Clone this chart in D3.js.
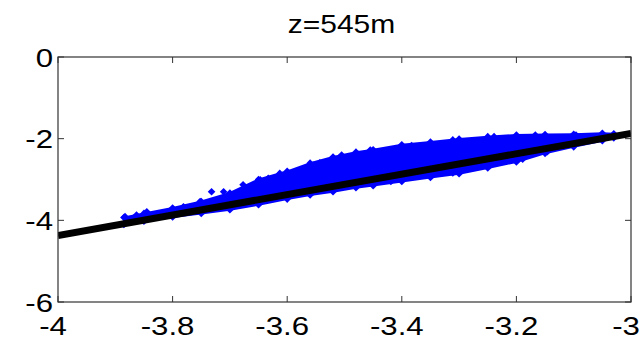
<!DOCTYPE html>
<html>
<head>
<meta charset="utf-8">
<script src="https://cdn.jsdelivr.net/npm/d3@7"></script>
<style>
  body { margin: 0; background: #fff; }
  svg { display: block; }
  text { font-family: "Liberation Sans", Arial, sans-serif; fill: #000; }
</style>
</head>
<body>
<div id="chart"></div>
<script>
// title and axis ticks
const title = "z=545m";
const xTicks = [-4, -3.8, -3.6, -3.4, -3.2, -3];
const yTicks = [0, -2, -4, -6];

// dense blue band: upper and lower edge
const bandX     = [-3.885, -3.85, -3.80, -3.75, -3.70, -3.65, -3.60, -3.56, -3.52, -3.48, -3.45, -3.40, -3.35, -3.30, -3.25, -3.20, -3.15, -3.10, -3.05, -3.03];
const bandUpper = [-3.93, -3.83, -3.70, -3.54, -3.33, -3.00, -2.80, -2.60, -2.45, -2.33, -2.27, -2.15, -2.08, -2.01, -1.95, -1.91, -1.90, -1.89, -1.87, -1.88];
const bandLower = [-4.10, -4.02, -3.92, -3.83, -3.74, -3.62, -3.48, -3.38, -3.30, -3.20, -3.15, -3.05, -2.95, -2.86, -2.72, -2.57, -2.36, -2.20, -2.05, -1.98];

// loose blue points around the band
const outX = [-3.883, -3.863, -3.845, -3.781, -3.752, -3.732, -3.711, -3.697, -3.677, -3.647, -3.633, -3.613, -3.589, -3.554, -3.543, -3.520, -3.505, -3.476, -3.455, -3.383, -3.311, -3.239, -3.167, -3.096, -3.189, -3.146, -3.311, -3.419];
const outY = [-3.91, -3.87, -3.79, -3.67, -3.54, -3.30, -3.30, -3.38, -3.13, -3.01, -2.97, -2.85, -2.85, -2.65, -2.59, -2.48, -2.40, -2.38, -2.28, -2.17, -2.03, -1.95, -1.91, -1.91, -2.50, -2.32, -2.84, -3.05];

// black fitted line
const lineX = [-4, -3];
const lineY = [-4.37, -1.87];

const width = 644, height = 340;
const margin = {top: 57, right: 13, bottom: 38, left: 58};
const sx = 1.2; // glyphs in the picture are stretched sideways

const svg = d3.select("#chart").append("svg")
  .attr("width", width)
  .attr("height", height);

const x = d3.scaleLinear().domain([-4, -3]).range([margin.left, width - margin.right]);
const y = d3.scaleLinear().domain([-6, 0]).range([height - margin.bottom, margin.top]);

svg.append("clipPath").attr("id", "clip")
  .append("rect")
  .attr("x", x(-4)).attr("y", y(0))
  .attr("width", x(-3) - x(-4)).attr("height", y(-6) - y(0));

const plot = svg.append("g").attr("clip-path", "url(#clip)");

// band
const band = bandX.map((v, i) => ({x: v, hi: bandUpper[i], lo: bandLower[i]}));
const area = d3.area()
  .x(d => x(d.x))
  .y0(d => y(d.lo))
  .y1(d => y(d.hi));
plot.append("path")
  .datum(band)
  .attr("d", area)
  .attr("fill", "#0000ff")
  .attr("stroke", "#0000ff")
  .attr("stroke-width", 2)
  .attr("stroke-linejoin", "round");

// diamond markers along edges and loose points
const diamond = r => `M0,${-r}L${r},0L0,${r}L${-r},0Z`;
const pts = [];
band.forEach(d => { pts.push([d.x, d.hi]); pts.push([d.x, d.lo]); });
outX.forEach((v, i) => pts.push([v, outY[i]]));
plot.append("g")
  .selectAll("path")
  .data(pts)
  .join("path")
  .attr("transform", d => `translate(${x(d[0])},${y(d[1])})`)
  .attr("d", diamond(3.8))
  .attr("fill", "#0000ff");

// black line
plot.append("path")
  .datum(lineX.map((v, i) => [v, lineY[i]]))
  .attr("d", d3.line().x(d => x(d[0])).y(d => y(d[1])))
  .attr("fill", "none")
  .attr("stroke", "#000")
  .attr("stroke-width", 7);

// box and inward ticks on all four sides
const axisColor = "#333";
svg.append("rect")
  .attr("x", x(-4)).attr("y", y(0))
  .attr("width", x(-3) - x(-4)).attr("height", y(-6) - y(0))
  .attr("fill", "none").attr("stroke", axisColor).attr("stroke-width", 1.2);

const tl = 6;
const ticks = svg.append("g").attr("stroke", axisColor).attr("stroke-width", 1);
xTicks.forEach(t => {
  ticks.append("line").attr("x1", x(t)).attr("x2", x(t)).attr("y1", y(-6)).attr("y2", y(-6) - tl);
  ticks.append("line").attr("x1", x(t)).attr("x2", x(t)).attr("y1", y(0)).attr("y2", y(0) + tl);
});
yTicks.forEach(t => {
  ticks.append("line").attr("x1", x(-4)).attr("x2", x(-4) + tl).attr("y1", y(t)).attr("y2", y(t));
  ticks.append("line").attr("x1", x(-3)).attr("x2", x(-3) - tl).attr("y1", y(t)).attr("y2", y(t));
});

// tick labels
svg.append("g").selectAll("text")
  .data(xTicks)
  .join("text")
  .attr("transform", d => `translate(${x(d) - 5},${y(-6) + 33}) scale(${sx},1)`)
  .attr("text-anchor", "middle")
  .attr("font-size", 26)
  .text(d => d3.format("")(d).replace("−", "-"));

svg.append("g").selectAll("text")
  .data(yTicks)
  .join("text")
  .attr("transform", d => `translate(${x(-4) - 5},${y(d) + 9.5}) scale(${sx},1)`)
  .attr("text-anchor", "end")
  .attr("font-size", 26)
  .text(d => d3.format("")(d).replace("−", "-"));

// title
svg.append("text")
  .attr("transform", `translate(${(x(-4) + x(-3)) / 2 - 3},33) scale(${sx},1)`)
  .attr("text-anchor", "middle")
  .attr("font-size", 25)
  .text(title);
</script>
</body>
</html>
